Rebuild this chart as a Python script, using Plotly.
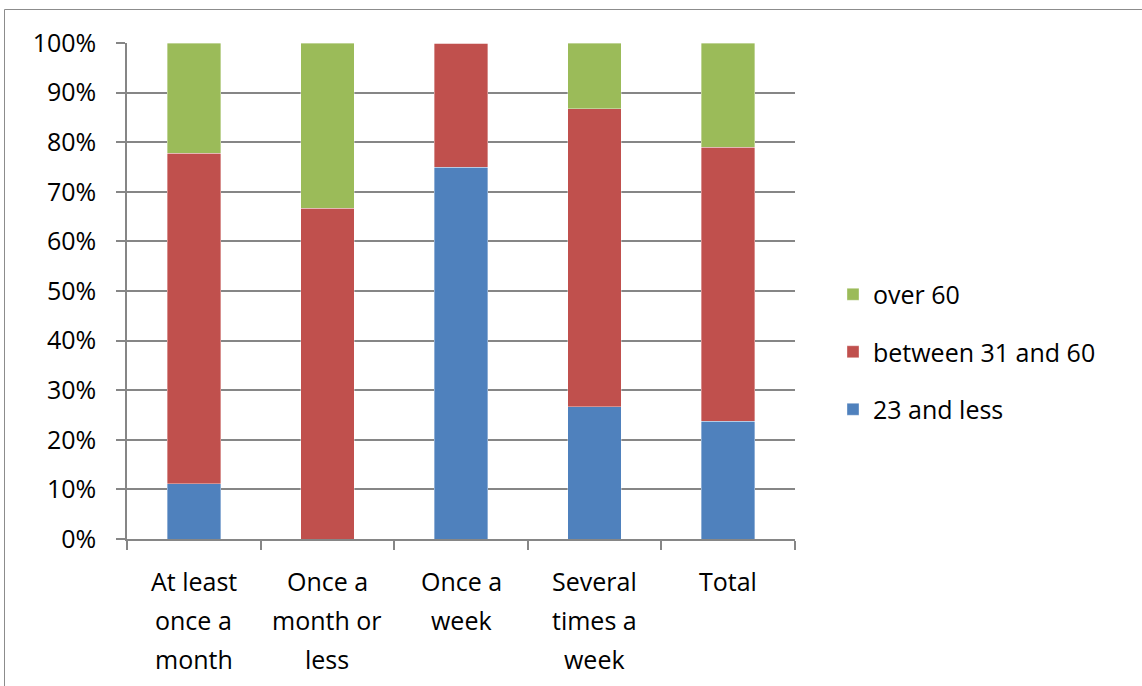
import plotly.graph_objects as go

# Share of respondents by age group for each visit frequency
categories = ["At least once a month", "Once a month or less", "Once a week",
              "Several times a week", "Total"]
category_lines = [["At least", "once a", "month"],
                  ["Once a", "month or", "less"],
                  ["Once a", "week"],
                  ["Several", "times a", "week"],
                  ["Total"]]
age_23_and_less = [0.111, 0.0, 0.75, 0.267, 0.237]
age_31_to_60 = [0.667, 0.667, 0.25, 0.60, 0.553]
age_over_60 = [0.222, 0.333, 0.0, 0.133, 0.210]
y_tick_values = [i / 10 for i in range(11)]
y_tick_labels = [f"{i * 10}%" for i in range(11)]

FONT = "Open Sans, Lato, sans-serif"
FSIZE = 25
GRID = "#868686"

W, H = 1142, 686
L, R, T, B = 127, 347, 43, 147
pw, ph = W - L - R, H - T - B

# (name, values, colour, legend rank) — stacked bottom to top
series = [
    ("23 and less", age_23_and_less, "#4F81BD", 3),
    ("between 31 and 60", age_31_to_60, "#C0504D", 2),
    ("over 60", age_over_60, "#9BBB59", 1),
]

fig = go.Figure()
for i, (name, vals, color, rank) in enumerate(series):
    fig.add_trace(go.Bar(
        x=categories, y=vals, name=name, legendgroup=f"g{i}", legendrank=rank,
        marker=dict(color=color, line=dict(color="rgba(255,255,255,0.6)", width=0.6)),
        width=0.4,
    ))

# Multi-line category labels below the axis
line_gap = 39
for cat, lines in zip(categories, category_lines):
    for k, txt in enumerate(lines):
        fig.add_annotation(
            x=cat, xref="x", y=0, yref="paper", yshift=-(42 + k * line_gap),
            text=txt, showarrow=False, xanchor="center", yanchor="middle",
            font=dict(family=FONT, size=FSIZE, color="#000000"),
        )

# Chart-area border
fig.add_shape(type="rect", xref="paper", yref="paper",
              x0=(4.5 - L) / pw, x1=(W + 5 - L) / pw,
              y0=(H - B - (H + 5)) / ph, y1=(H - B - 9.5) / ph,
              line=dict(color="#8c8c8c", width=1), fillcolor="rgba(0,0,0,0)",
              layer="below")

fig.update_layout(
    width=W, height=H,
    margin=dict(l=L, r=R, t=T, b=B),
    barmode="stack",
    plot_bgcolor="white", paper_bgcolor="white",
    font=dict(family=FONT, size=FSIZE, color="#000000"),
    legend=dict(
        x=(833 - L) / pw, xanchor="left",
        y=(H - B - 352) / ph, yanchor="middle",
        traceorder="grouped", tracegroupgap=22,
        font=dict(family=FONT, size=FSIZE, color="#000000"),
        bgcolor="rgba(0,0,0,0)",
    ),
    xaxis=dict(
        type="category", range=[-0.5, 4.5], tickson="boundaries",
        showticklabels=False, ticks="outside", ticklen=9, tickwidth=1.5,
        tickcolor=GRID, showline=True, linecolor=GRID, linewidth=1.5,
        showgrid=False, zeroline=False,
    ),
    yaxis=dict(
        range=[0, 1], tickvals=y_tick_values, ticktext=y_tick_labels,
        ticks="outside", ticklen=9, tickwidth=1.5, tickcolor=GRID,
        ticklabelstandoff=15,
        showline=True, linecolor=GRID, linewidth=1.5,
        showgrid=True, gridcolor=GRID, gridwidth=1.5, zeroline=False,
        tickfont=dict(family=FONT, size=FSIZE, color="#000000"),
    ),
    bargap=0.6,
)

fig.write_html("out.html")
